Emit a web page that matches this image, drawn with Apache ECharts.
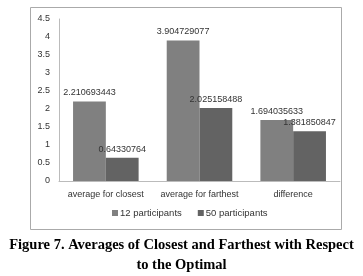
<!DOCTYPE html>
<html><head><meta charset="utf-8">
<script src="https://cdn.jsdelivr.net/npm/echarts@6/dist/echarts.min.js"></script>
<style>html,body{margin:0;padding:0;background:#fff}#c{width:363px;height:276px}</style>
</head><body><div id="c"></div>
<script>
const categories = ['average for closest', 'average for farthest', 'difference'];
const series12 = [2.210693443, 3.904729077, 1.694035633];
const series50 = [0.64330764, 2.025158488, 1.381850847];
const seriesNames = ['12 participants', '50 participants'];
const yTicks = {min: 0, max: 4.5, interval: 0.5};
const caption = ['Figure 7. Averages of Closest and Farthest with Respect', 'to the Optimal'];

const chart = echarts.init(document.getElementById('c'), null, {renderer: 'canvas'});
const font = 'Liberation Sans';
const lbl = {show: true, position: 'top', distance: 4, fontFamily: font, fontSize: 9, color: '#333',
  formatter: p => String(p.value)};
chart.setOption({
  animation: false,
  backgroundColor: '#fff',
  grid: {left: 59, right: 23, top: 19, bottom: 95, containLabel: false},
  legend: {
    data: seriesNames, bottom: 53, left: 107, itemWidth: 6, itemHeight: 6, itemGap: 16,
    icon: 'rect', textStyle: {fontFamily: font, fontSize: 9.5, color: '#333', padding: [0, 0, 0, -3]}
  },
  xAxis: {
    type: 'category', data: categories,
    axisLine: {lineStyle: {color: '#bbb'}}, axisTick: {show: false},
    axisLabel: {interval: 0, fontFamily: font, fontSize: 9, color: '#333', margin: 9}
  },
  yAxis: {
    type: 'value', min: yTicks.min, max: yTicks.max, interval: yTicks.interval,
    axisLine: {show: true, lineStyle: {color: '#bbb'}}, axisTick: {show: false},
    splitLine: {show: false},
    axisLabel: {fontFamily: font, fontSize: 9, color: '#333', margin: 9}
  },
  series: [
    {name: seriesNames[0], type: 'bar', data: series12, barGap: '0%', barCategoryGap: '30%',
     itemStyle: {color: '#808080'}, label: lbl},
    {name: seriesNames[1], type: 'bar', data: series50,
     itemStyle: {color: '#636363'}, label: lbl}
  ],
  graphic: [
    {type: 'rect', shape: {x: 30.5, y: 7.5, width: 311, height: 222}, style: {fill: null, stroke: '#aaa', lineWidth: 1}, silent: true, z: -1},
    {type: 'text', x: 181.5, y: 245, style: {text: caption[0], font: 'bold 14.5px "Liberation Serif"', fill: '#000', align: 'center', verticalAlign: 'middle'}},
    {type: 'text', x: 181.5, y: 265, style: {text: caption[1], font: 'bold 14.5px "Liberation Serif"', fill: '#000', align: 'center', verticalAlign: 'middle'}}
  ]
});
</script></body></html>
